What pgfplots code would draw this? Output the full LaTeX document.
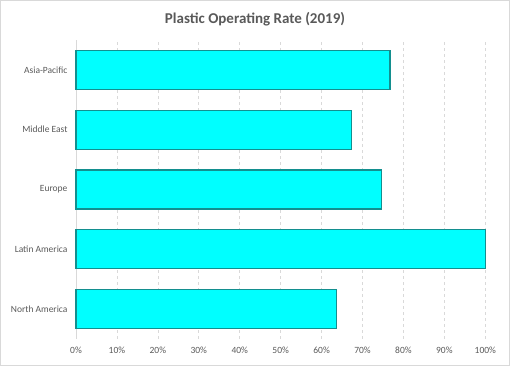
\documentclass[border=0pt]{standalone}
\usepackage{pgfplots}
\pgfplotsset{compat=1.18}
\usepackage{fontspec}
\setmainfont{Carlito}
\definecolor{txt}{HTML}{595959}
\definecolor{barfill}{HTML}{00FFFF}
\definecolor{baredge}{HTML}{138F8F}
\definecolor{gridc}{HTML}{D9D9D9}
\begin{document}
\begin{tikzpicture}
\useasboundingbox (0,0) rectangle (510pt,366pt);
\draw[gridc, line width=0.8pt] (0.5pt,0.5pt) rectangle (509.5pt,365.5pt);
\node[text=txt, font=\fontsize{15}{18}\selectfont\bfseries] at (255pt,347pt) {Plastic Operating Rate (2019)};
\begin{axis}[
  at={(76pt,27pt)}, anchor=south west,
  scale only axis, width=409.3pt, height=299pt,
  xbar, bar width=0.65,
  xmin=0, xmax=100, ymin=-0.5, ymax=4.5,
  xtick={0,10,...,100},
  xticklabel={\pgfmathprintnumber{\tick}\%},
  /pgf/number format/assume math mode=true,
  ytick={0,1,2,3,4},
  yticklabels={North America, Latin America, Europe, Middle East, Asia-Pacific},
  ticklabel style={text=txt, font=\fontsize{9.5}{11}\selectfont},
  xticklabel style={yshift=-4pt},
  yticklabel style={xshift=-5pt},
  major tick length=0pt,
  xmajorgrids, grid style={gridc, dashed, dash pattern=on 3pt off 3pt, line width=0.7pt},
  axis y line*=left, axis x line*=bottom,
  x axis line style={draw=none},
  y axis line style={draw=gridc, line width=0.8pt, -},
  clip=false,
]
\addplot[fill=barfill, draw=baredge, line width=1.2pt] coordinates {
  (63.7,0) (100,1) (74.7,2) (67.3,3) (76.7,4)
};
\end{axis}
\end{tikzpicture}
\end{document}
